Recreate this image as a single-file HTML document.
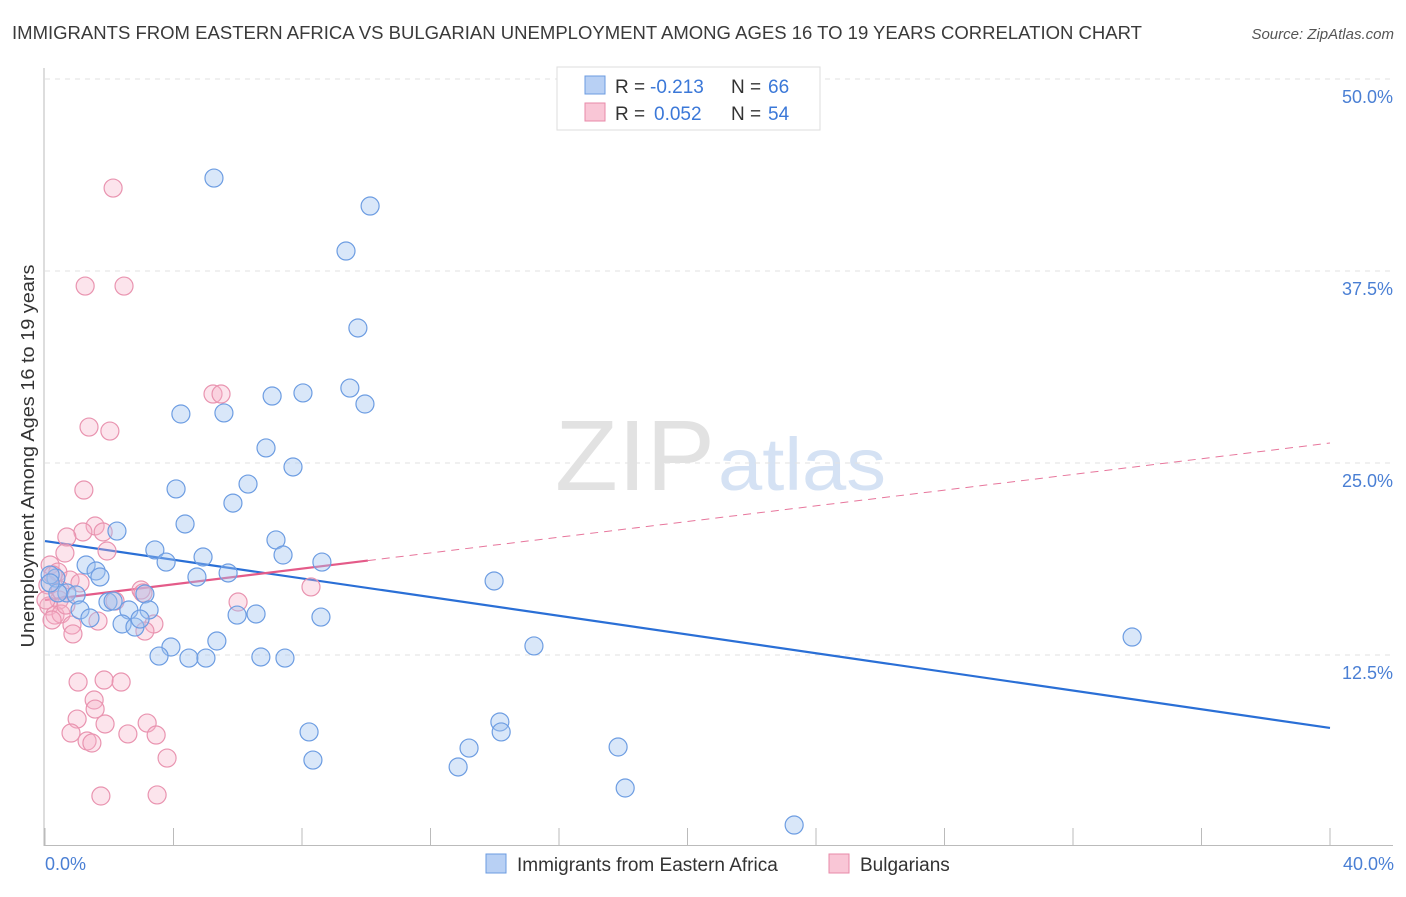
<!DOCTYPE html>
<html><head><meta charset="utf-8"><style>
body{margin:0;background:#fff;font-family:"Liberation Sans",sans-serif;}
svg text{font-family:"Liberation Sans",sans-serif;}
</style></head><body>
<svg id="chart" width="1406" height="892" viewBox="0 0 1406 892" xmlns="http://www.w3.org/2000/svg">
<text x="12" y="39" font-size="18" fill="#3a3a3a" textLength="1130" lengthAdjust="spacingAndGlyphs">IMMIGRANTS FROM EASTERN AFRICA VS BULGARIAN UNEMPLOYMENT AMONG AGES 16 TO 19 YEARS CORRELATION CHART</text>
<text x="1394" y="39" font-size="15" fill="#555" text-anchor="end" font-style="italic">Source: ZipAtlas.com</text>
<text x="555" y="490" font-size="100" fill="#e2e2e2" font-family="Liberation Serif" textLength="160" lengthAdjust="spacingAndGlyphs">ZIP</text>
<text x="718" y="490" font-size="74" fill="#d5e2f4" textLength="168" lengthAdjust="spacingAndGlyphs">atlas</text>
<g id="grid"></g>
<g id="axes"></g>
<g id="trends"></g>
<g id="points"></g>
<text transform="translate(34,456) rotate(-90)" font-size="18" fill="#333" text-anchor="middle" textLength="383" lengthAdjust="spacingAndGlyphs">Unemployment Among Ages 16 to 19 years</text>
<text x="45" y="870" font-size="18" fill="#4a7fd4">0.0%</text>
<text x="1394" y="870" font-size="18" fill="#4a7fd4" text-anchor="end">40.0%</text>
<g>
<rect x="557" y="67" width="263" height="63" fill="#fff" stroke="#ddd"/>
<rect x="585" y="76" width="20" height="18" fill="#b8d0f4" stroke="#6b9be0"/>
<rect x="585" y="103" width="20" height="18" fill="#f9c6d6" stroke="#e88aa8"/>
<text x="615" y="93" font-size="19" fill="#333">R =</text>
<text x="650" y="93" font-size="19" fill="#3b78d8">-0.213</text>
<text x="731" y="93" font-size="19" fill="#333">N =</text>
<text x="768" y="93" font-size="19" fill="#3b78d8">66</text>
<text x="615" y="120" font-size="19" fill="#333">R =</text>
<text x="654" y="120" font-size="19" fill="#3b78d8">0.052</text>
<text x="731" y="120" font-size="19" fill="#333">N =</text>
<text x="768" y="120" font-size="19" fill="#3b78d8">54</text>
</g>
<g>
<rect x="486" y="854" width="20" height="19" fill="#b8d0f4" stroke="#6b9be0"/>
<text x="517" y="871" font-size="19" fill="#333">Immigrants from Eastern Africa</text>
<rect x="829" y="854" width="20" height="19" fill="#f9c6d6" stroke="#e88aa8"/>
<text x="860" y="871" font-size="19" fill="#333">Bulgarians</text>
</g>
</svg>
<script>
const yTicks=[12.5,25,37.5,50];
const yTickLabels=["12.5%","25.0%","37.5%","50.0%"];
const xTicks=[0,4,8,12,16,20,24,28,32,36,40];
const blueX=[5.26,10.12,9.37,9.74,9.49,9.96,7.07,8.03,4.23,5.57,6.88,7.72,4.08,6.32,5.85,4.36,2.24,7.19,3.42,7.41,8.62,4.92,3.77,1.28,1.59,1.71,4.73,5.70,13.98,0.34,0.16,0.68,0.40,0.97,1.96,2.12,3.11,2.61,3.24,1.09,1.40,2.40,2.80,2.96,5.98,6.57,8.59,3.92,5.35,3.55,4.48,5.01,6.72,7.47,15.22,33.84,8.22,14.16,14.20,13.20,17.84,8.34,12.86,18.06,23.32,0.16];
const blueY=[43.55,41.73,38.80,33.79,29.88,28.84,29.36,29.56,28.19,28.26,25.98,24.74,23.31,23.63,22.39,21.03,20.57,19.99,19.34,19.01,18.55,18.88,18.55,18.36,17.97,17.58,17.58,17.84,17.32,17.51,17.71,16.54,16.54,16.41,15.95,16.01,16.47,15.43,15.43,15.43,14.91,14.52,14.32,14.84,15.10,15.17,14.97,13.02,13.41,12.43,12.30,12.30,12.37,12.30,13.09,13.67,7.49,8.14,7.49,6.44,6.51,5.66,5.21,3.84,1.43,17.19];
const pinkX=[2.12,1.25,2.46,5.23,5.48,1.37,2.02,1.21,1.56,1.18,0.68,1.81,0.62,1.93,0.16,0.40,0.78,0.09,1.09,2.99,3.05,2.18,0.44,0.12,0.31,0.50,1.65,3.39,0.84,0.87,3.11,6.01,8.28,1.03,1.84,2.37,1.53,1.56,1.00,1.87,3.18,0.81,2.58,3.46,1.31,1.46,3.80,1.74,3.49,0.22,0.47,0.25,0.03,0.65];
const pinkY=[42.90,36.52,36.52,29.49,29.49,27.34,27.08,23.24,20.90,20.51,20.18,20.51,19.14,19.27,18.36,17.90,17.38,17.06,17.19,16.73,16.54,16.01,16.08,15.69,15.10,15.17,14.71,14.52,14.45,13.87,14.06,15.95,16.93,10.74,10.87,10.74,9.57,8.98,8.33,8.01,8.07,7.42,7.36,7.29,6.90,6.77,5.79,3.32,3.39,14.78,16.73,17.71,16.08,15.75];
const blueTrend=[19.92,7.75];
const pinkTrend=[16.08,26.3];
const pinkSolidEnd=10.05;

const NS="http://www.w3.org/2000/svg";
const X=v=>45+v/40*1285;
const Y=v=>847-v/50*768;
function mk(tag,attrs,parent){const e=document.createElementNS(NS,tag);for(const k in attrs)e.setAttribute(k,attrs[k]);parent.appendChild(e);return e;}
const grid=document.getElementById('grid'),axes=document.getElementById('axes'),trends=document.getElementById('trends'),pts=document.getElementById('points');
yTicks.forEach((t,i)=>{
  const l=mk('line',{x1:45,x2:1393,y1:Y(t),y2:Y(t),stroke:'#e2e2e2','stroke-dasharray':'5,5'},grid);
  
  
  const tx=mk('text',{x:1393,y:Y(t)+24,'font-size':18,fill:'#4a7fd4','text-anchor':'end'},grid);
  tx.textContent=yTickLabels[i];
  
  
});
const ya=mk('line',{x1:44,x2:44,y1:68,y2:846,stroke:'#bbb'},axes);


const xa=mk('line',{x1:44,x2:1393,y1:845.5,y2:845.5,stroke:'#bbb'},axes);


xTicks.forEach(t=>{
  const l=mk('line',{x1:X(t),x2:X(t),y1:828,y2:846,stroke:'#bbb'},axes);
  
  
});
function drawPts(xs,ys,fill,stroke,name){
  xs.forEach((x,i)=>{
    const c=mk('circle',{cx:X(x),cy:Y(ys[i]),r:9,fill:fill,stroke:stroke,'stroke-width':1.2},pts);
    
    
  });
}
drawPts(pinkX,pinkY,'rgba(246,178,200,0.35)','#e994b0','bulgarian-point');
drawPts(blueX,blueY,'rgba(160,195,240,0.4)','#6d9de2','eastern-africa-point');
const bt=mk('line',{x1:X(0),y1:Y(blueTrend[0]),x2:X(40),y2:Y(blueTrend[1]),stroke:'#2a6fd6','stroke-width':2.2},trends);


const pAt=x=>pinkTrend[0]+(pinkTrend[1]-pinkTrend[0])*x/40;
const pd=mk('line',{x1:X(pinkSolidEnd),y1:Y(pAt(pinkSolidEnd)),x2:X(40),y2:Y(pinkTrend[1]),stroke:'#e7769c','stroke-width':1,'stroke-dasharray':'8,6'},trends);


const ps=mk('line',{x1:X(0),y1:Y(pinkTrend[0]),x2:X(pinkSolidEnd),y2:Y(pAt(pinkSolidEnd)),stroke:'#e45b89','stroke-width':2.2},trends);


</script>
</body></html>
